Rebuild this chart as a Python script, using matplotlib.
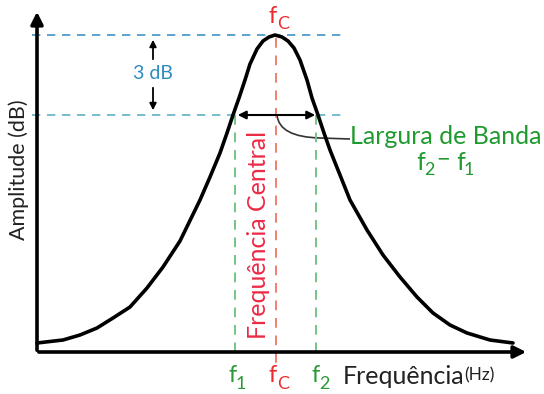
import matplotlib.pyplot as plt
from matplotlib.path import Path
from matplotlib.patches import PathPatch

plt.rcParams['font.family'] = ['Lato', 'DejaVu Sans']

# curva de resposta (eixo y invertido)
frequencia = [37, 63, 80, 97, 113, 130, 147, 163, 180, 200, 210, 220, 227, 233,
              239, 245, 250, 257, 263, 269, 275, 282, 288, 294, 300, 307, 312, 318,
              324, 330, 340, 350, 367, 383, 400, 417, 433, 450, 467, 490, 513]
amplitude = [343, 340, 335, 328, 318, 307, 288, 267, 241, 200, 177, 153, 133, 115,
             98, 80, 64, 49, 41, 37, 35, 37, 41, 48, 60, 80, 98, 115,
             133, 150, 175, 200, 230, 255, 277, 297, 313, 325, 333, 340, 343]

# frequencias de corte e central
f1, fc, f2 = 235, 276, 316
nivel_pico = 35
nivel_3db = 115

fig = plt.figure(figsize=(5.44, 3.94), dpi=100)
ax = fig.add_axes([0, 0, 1, 1])
ax.set_xlim(0, 544)
ax.set_ylim(394, 0)
ax.axis('off')

# linhas tracejadas horizontais
ax.plot([32, 345], [nivel_pico, nivel_pico], ls=(0, (5, 4)), color='#3f93c4', lw=1.2)
ax.plot([32, 345], [nivel_3db, nivel_3db], ls=(0, (5, 4)), color='#5fb0c6', lw=1.2)

# linhas verticais
ax.plot([fc, fc], [38, 364], ls=(0, (5, 4)), color='#f0806e', lw=1.4)
ax.plot([f1, f1], [nivel_3db, 360], ls=(0, (5, 4)), color='#74c488', lw=1.4)
ax.plot([f2, f2], [nivel_3db, 360], ls=(0, (5, 4)), color='#74c488', lw=1.4)

# curva
ax.plot(frequencia, amplitude, color='black', lw=2.6,
        solid_capstyle='round', solid_joinstyle='round')

# eixos
ax.annotate('', xy=(37, 9), xytext=(37, 353),
            arrowprops=dict(arrowstyle='-|>', lw=2.6, color='black', mutation_scale=18))
ax.annotate('', xy=(529, 352), xytext=(36, 352),
            arrowprops=dict(arrowstyle='-|>', lw=2.6, color='black', mutation_scale=18))

# 3 dB
ax.annotate('', xy=(153, 37), xytext=(153, 62),
            arrowprops=dict(arrowstyle='-|>', lw=1.3, color='black', mutation_scale=10))
ax.annotate('', xy=(153, 113), xytext=(153, 85),
            arrowprops=dict(arrowstyle='-|>', lw=1.3, color='black', mutation_scale=10))
ax.text(153, 73, '3 dB', color='#2e8cc0', fontsize=14, ha='center', va='center')

# largura de banda
ax.annotate('', xy=(f1, nivel_3db), xytext=(f2 + 2, nivel_3db),
            arrowprops=dict(arrowstyle='<|-|>', lw=1.5, color='black', mutation_scale=12))
caminho = Path([(fc + 1, nivel_3db), (fc + 3, 137), (320, 138), (350, 139)],
               [Path.MOVETO, Path.CURVE3, Path.CURVE3, Path.LINETO])
ax.add_patch(PathPatch(caminho, fill=False, color='#333333', lw=1.2))
ax.text(446, 136, 'Largura de Banda', color='#1f9a2e', fontsize=18, ha='center', va='center')
ax.text(416, 162, 'f', color='#1f9a2e', fontsize=18, ha='left', va='center')
ax.text(424, 170, '2', color='#1f9a2e', fontsize=13, ha='left', va='center')
ax.text(436, 160, '\u2212', color='#1f9a2e', fontsize=17, ha='left', va='center')
ax.text(456, 162, 'f', color='#1f9a2e', fontsize=18, ha='left', va='center')
ax.text(464, 170, '1', color='#1f9a2e', fontsize=13, ha='left', va='center')

# frequencia central
ax.text(258, 235, 'Frequência Central', color='#ec2a46', fontsize=18,
        rotation=90, ha='center', va='center')
ax.text(fc - 3, 16, 'f', color='#ee2a2a', fontsize=17, ha='center', va='center')
ax.text(fc + 7, 24, 'C', color='#ee2a2a', fontsize=13, ha='center', va='center')

# rotulos do eixo x
ax.text(f1 - 2, 376, 'f', color='#2a9a38', fontsize=17, ha='center', va='center')
ax.text(f1 + 6, 384, '1', color='#2a9a38', fontsize=13, ha='center', va='center')
ax.text(fc - 3, 376, 'f', color='#ee2a2a', fontsize=17, ha='center', va='center')
ax.text(fc + 7, 384, 'C', color='#ee2a2a', fontsize=13, ha='center', va='center')
ax.text(f2, 376, 'f', color='#2a9a38', fontsize=17, ha='center', va='center')
ax.text(f2 + 8, 384, '2', color='#2a9a38', fontsize=13, ha='center', va='center')

ax.text(343, 377, 'Frequência', color='#222222', fontsize=18, ha='left', va='center')
ax.text(464, 375, '(Hz)', color='#222222', fontsize=12.5, ha='left', va='center')
ax.text(19, 170, 'Amplitude (dB)', color='#222222', fontsize=15.5,
        rotation=90, ha='center', va='center')

fig.savefig('out.png', dpi=100)
